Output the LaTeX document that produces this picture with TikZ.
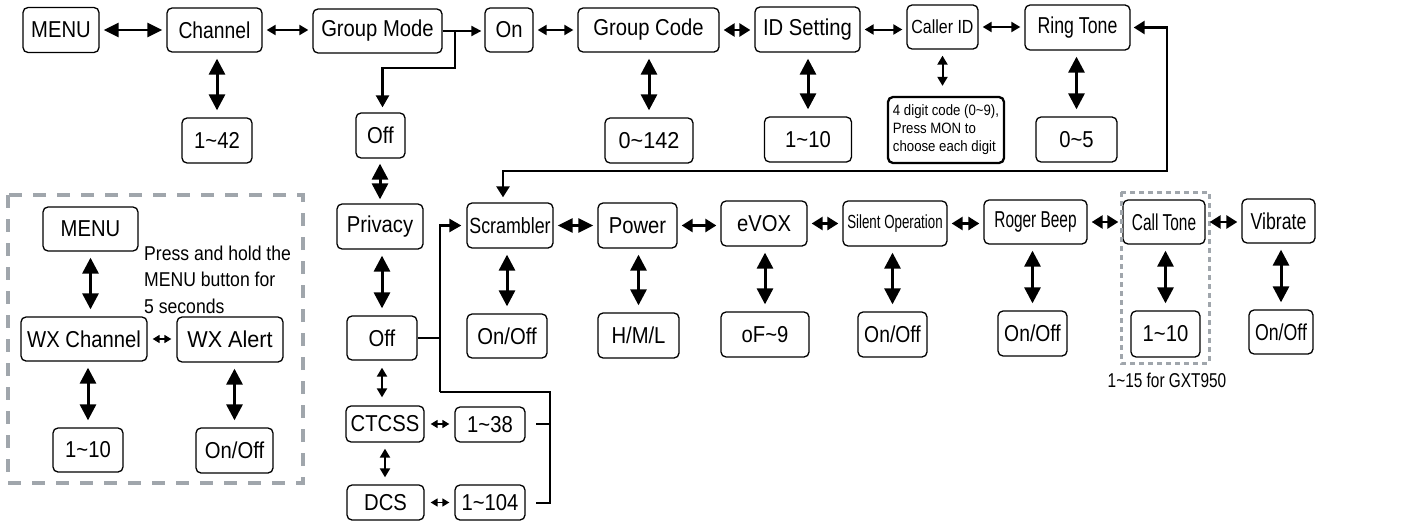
\documentclass[tikz,border=0pt]{standalone}
\usepackage{fontspec}
\setmainfont{Liberation Sans}
\newfontfamily\fN{Liberation Sans}[FakeStretch=0.88]
\newfontfamily\fW{Liberation Sans}[FakeStretch=0.94]
\newfontfamily\fL{Liberation Sans}[FakeStretch=0.84]
\newfontfamily\fK{Liberation Sans}[FakeStretch=0.81]
\newfontfamily\fR{Liberation Sans}[FakeStretch=0.77]
\newfontfamily\fS{Liberation Sans}[FakeStretch=0.70]
\newfontfamily\fC{Liberation Sans}[FakeStretch=0.67]
\usetikzlibrary{arrows.meta}
\definecolor{dgray}{RGB}{160,166,172}
\newcommand{\tld}{\textasciitilde}
\begin{document}
\begin{tikzpicture}[x=1pt,y=-1pt,
  box/.style={draw, rounded corners=5pt, line width=1.3pt, inner sep=1pt, align=center},
  wh/.style 2 args={minimum width=#1pt, minimum height=#2pt},
  fn/.style={font=\fN\fontsize{23}{27}\selectfont},
  fw/.style={font=\fW\fontsize{23}{27}\selectfont},
  fl/.style={font=\fL\fontsize{23}{27}\selectfont},
  fr/.style={font=\fR\fontsize{23}{27}\selectfont},
  fc/.style={font=\fC\fontsize{23}{27}\selectfont},
  ln/.style={line width=2pt},
  aA/.style={line width=3pt, {Triangle[length=16pt,width=16pt]}-{Triangle[length=16pt,width=16pt]}},
  aL/.style={line width=2.8pt, {Triangle[length=15pt,width=14pt]}-{Triangle[length=15pt,width=14pt]}},
  aB/.style={line width=2.6pt, {Triangle[length=11pt,width=13pt]}-{Triangle[length=11pt,width=13pt]}},
  aC/.style={line width=2pt, {Triangle[length=9pt,width=10pt]}-{Triangle[length=9pt,width=10pt]}},
  aD/.style={line width=1.6pt, {Triangle[length=7pt,width=8pt]}-{Triangle[length=7pt,width=8pt]}},
  sC/.style={line width=2pt, -{Triangle[length=10pt,width=10pt]}},
  sB/.style={line width=2.4pt, -{Triangle[length=12pt,width=13pt]}},
  sh/.style={shorten <=4pt, shorten >=4pt},
  sv/.style={shorten <=6pt, shorten >=7pt},
  dbox/.style={dgray, line width=3.5pt, dash pattern=on 13pt off 11pt},
  dbox2/.style={dgray, line width=3pt, dash pattern=on 5pt off 4pt}
]
\useasboundingbox (0,0) rectangle (1406,522);

% ---------- top row ----------
\node[box,fn,wh={76}{45}] (menu) at (61,30) {MENU};
\node[box,fl,wh={95}{44}] (ch) at (214.5,30) {Channel};
\node[box,fn,wh={129}{44}] (gmode) at (377.5,31) {Group Mode};
\node[box,fn,wh={48}{44}] (on) at (509,30) {On};
\node[box,fn,wh={141}{44}] (gcode) at (648.5,30) {Group Code};
\node[box,fn,wh={105}{45}] (id) at (807.5,29.5) {ID Setting};
\node[box,font=\fL\fontsize{19}{22}\selectfont,wh={71}{44}] (caller) at (942.5,27) {Caller ID};
\node[box,fr,wh={105}{45}] (ring) at (1077.5,27.5) {Ring Tone};

\node[box,fn,wh={70}{45}] (v42) at (217,140.5) {1\tld42};
\node[box,fn,wh={49}{45}] (offA) at (380.5,135.5) {Off};
\node[box,fw,wh={88}{45}] (v142) at (649,140.5) {0\tld142};
\node[box,fn,wh={87}{45}] (v110) at (808,139.5) {1\tld10};
\node[box,line width=2.3pt,align=left,font=\fN\fontsize{15}{18}\selectfont,wh={116}{66}] (note) at (946,130) {4 digit code (0\tld9),\\Press MON to\\choose each digit};
\node[box,fn,wh={81}{45}] (v05) at (1076.5,139.5) {0\tld5};

% ---------- left dashed group ----------
\draw[dbox] (8,195) rectangle (303,483);
\node[box,fn,wh={95}{44}] (menu2) at (90.5,229) {MENU};
\node[box,fn,wh={126}{44}] (wxch) at (84,339) {WX Channel};
\node[box,fw,wh={106}{45}] (wxal) at (230,339.5) {WX Alert};
\node[box,fn,wh={70}{44}] (v10a) at (88,450) {1\tld10};
\node[box,fn,wh={77}{45}] (onoffa) at (234.5,450.5) {On/Off};
\node[anchor=base west,inner sep=0,font=\fN\fontsize{20}{26}\selectfont] (p1) at (144,260) {Press and hold the};
\node[anchor=base west,inner sep=0,font=\fN\fontsize{20}{26}\selectfont] (p2) at (144,286.5) {MENU button for};
\node[anchor=base west,inner sep=0,font=\fN\fontsize{20}{26}\selectfont] (p3) at (144,313) {5 seconds};

% ---------- privacy column ----------
\node[box,fn,wh={86}{45}] (privacy) at (380,226.5) {Privacy};
\node[box,fn,wh={70}{44}] (offB) at (382,338) {Off};
\node[box,fn,wh={78}{36}] (ctcss) at (385,424) {CTCSS};
\node[box,fn,wh={77}{35}] (dcs) at (385.5,502.5) {DCS};
\node[box,fn,wh={70}{35}] (v38) at (490,424.5) {1\tld38};
\node[box,fn,wh={70}{35}] (v104) at (490,502.5) {1\tld104};

% ---------- second row ----------
\node[box,font=\fK\fontsize{22}{26}\selectfont,wh={86}{45}] (scr) at (510,225.5) {Scrambler};
\node[box,fn,wh={79}{45}] (pow) at (637.5,225.5) {Power};
\node[box,fn,wh={86}{45}] (evox) at (764,223.5) {eVOX};
\node[box,font=\fS\fontsize{19}{22}\selectfont,wh={104}{45}] (silent) at (895,223.5) {Silent Operation};
\node[box,fc,wh={103}{44}] (roger) at (1035.5,222) {Roger Beep};
\node[box,fc,wh={82}{44}] (call) at (1164,222) {Call Tone};
\node[box,fr,wh={73}{44}] (vib) at (1278.5,221) {Vibrate};

\node[box,fn,wh={80}{44}] (oo1) at (507,336) {On/Off};
\node[box,fn,wh={81}{45}] (hml) at (638.5,335.5) {H/M/L};
\node[box,fn,wh={88}{45}] (of9) at (765,334.5) {oF\tld9};
\node[box,fl,wh={69}{45}] (oo2) at (892.5,334.5) {On/Off};
\node[box,fl,wh={69}{45}] (oo3) at (1032.5,333.5) {On/Off};
\node[box,fn,wh={69}{46}] (v110b) at (1165.5,334) {1\tld10};
\node[box,fr,wh={64}{44}] (oo4) at (1281,332) {On/Off};
\draw[dbox2] (1121,192) rectangle (1209,363);
\node[inner sep=0,font=\fR\fontsize{20}{24}\selectfont] (gxt) at (1167,380) {1\tld15 for GXT950};

% ---------- coordinates ----------
\coordinate (j1) at (455,31);
\coordinate (j2) at (455,68);
\coordinate (fb) at (1167,171);
\coordinate (k0) at (440,338);
\coordinate (k1) at (440,392);
\coordinate (k2) at (550,392);
\coordinate (k3) at (550,503);
\coordinate (k4) at (536,503);
\coordinate (k5) at (550,424);
\coordinate (k6) at (536,424);

% ---------- top row connectors ----------
\draw[aL,sh] (menu.east) -- (ch.west |- menu.east);
\draw[aC,sh] (ch.east) -- (gmode.west |- ch.east);
\draw[sC,shorten >=3pt] (gmode.east) -- (on.west |- gmode.east);
\draw[sB,shorten >=5pt] (j1) -- (j2) -| ([xshift=2pt]offA.north);
\draw[aC,sh] (on.east) -- (gcode.west |- on.east);
\draw[aB,sh] (gcode.east) -- (id.west |- gcode.east);
\draw[aC,sh] (id.east) -- (caller.west |- id.east);
\draw[aC,sh] (caller.east) -- (ring.west |- caller.east);
\draw[aB,shorten <=3pt,shorten >=5pt] (ring.east) -| (fb) -| ([xshift=-7pt]scr.north);

\draw[aA,sv] (v42.north |- ch.south) -- (v42.north);
\draw[aA,sv] (v142.north |- gcode.south) -- (v142.north);
\draw[aA,sv] (v110.north |- id.south) -- (v110.north);
\draw[aC,shorten <=6pt,shorten >=10pt] (caller.south) -- (caller.south |- note.north);
\draw[aA,sv] (v05.north |- ring.south) -- (v05.north);

% ---------- left group connectors ----------
\draw[aA,sv] (menu2.south) -- (menu2.south |- wxch.north);
\draw[aD,shorten <=5pt,shorten >=5pt] (wxch.east) -- (wxal.west |- wxch.east);
\draw[aA,sv] (v10a.north |- wxch.south) -- (v10a.north);
\draw[aA,sv] (onoffa.north |- wxal.south) -- (onoffa.north);

% ---------- privacy column connectors ----------
\draw[aA,shorten <=5pt,shorten >=4pt] (privacy.north |- offA.south) -- (privacy.north);
\draw[aA,sv] (offB.north |- privacy.south) -- (offB.north);
\draw[aC,shorten <=7pt,shorten >=8pt] (offB.south) -- (offB.south |- ctcss.north);
\draw[aC,shorten <=6pt,shorten >=7pt] (ctcss.south) -- (ctcss.south |- dcs.north);
\draw[aD,shorten <=6pt,shorten >=5pt] (ctcss.east) -- (v38.west |- ctcss.east);
\draw[aD,shorten <=6pt,shorten >=5pt] (dcs.east) -- (v104.west |- dcs.east);

\draw[ln] (offB.east) -- (k0);
\draw[sB,shorten >=5pt] (k1) |- (scr.west);
\draw[ln] (k1) -- (k2) -- (k3) -- (k4);
\draw[ln] (k5) -- (k6);

% ---------- second row connectors ----------
\draw[aL,sh] (scr.east) -- (pow.west |- scr.east);
\draw[aB,sh] (pow.east) -- (evox.west |- pow.east);
\draw[aB,sh] (evox.east) -- (silent.west |- evox.east);
\draw[aB,sh] (silent.east) -- (roger.west |- silent.east);
\draw[aB,sh] (roger.east) -- (call.west |- roger.east);
\draw[aB,sh] (call.east) -- (vib.west |- call.east);

\draw[aA,sv] (oo1.north |- scr.south) -- (oo1.north);
\draw[aA,sv] (hml.north |- pow.south) -- (hml.north);
\draw[aA,sv] (of9.north |- evox.south) -- (of9.north);
\draw[aA,sv] (oo2.north |- silent.south) -- (oo2.north);
\draw[aA,sv] (oo3.north |- roger.south) -- (oo3.north);
\draw[aA,sv] (v110b.north |- call.south) -- (v110b.north);
\draw[aA,sv] (oo4.north |- vib.south) -- (oo4.north);
\end{tikzpicture}
\end{document}
